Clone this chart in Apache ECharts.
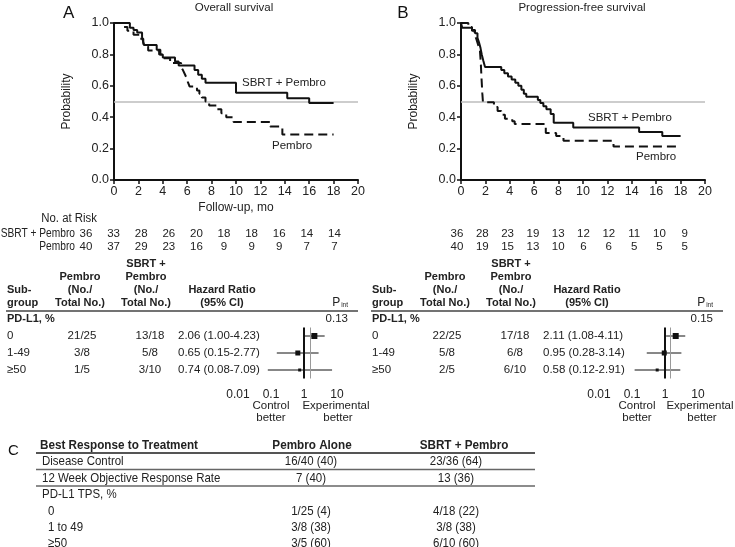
<!DOCTYPE html>
<html><head><meta charset="utf-8">
<script src="https://cdn.jsdelivr.net/npm/echarts@6/dist/echarts.min.js"></script>
<style>html,body{margin:0;padding:0;background:#fff}#c{width:735px;height:547px}</style>
</head><body><div id="c"></div>
<script>
// ---------- DATA ----------
// Panel A: overall survival (Kaplan-Meier steps: time in months, probability)
const osSbrtTime = [0, 1.3, 1.6, 1.9, 2.3, 2.45, 3.5, 3.8, 4.0, 5.0, 5.3, 6.6, 6.9, 7.2, 7.5, 10.0, 14.2, 16.0, 18.0];
const osSbrtProb = [1.0, 0.97, 0.955, 0.94, 0.91, 0.86, 0.83, 0.80, 0.78, 0.755, 0.73, 0.70, 0.67, 0.645, 0.62, 0.555, 0.52, 0.49, 0.49];
const osPembroTime = [0, 0.7, 1.1, 1.6, 2.1, 2.4, 2.5, 2.8, 3.7, 3.9, 4.6, 5.5, 5.65, 5.8, 5.95, 6.05, 6.2, 6.8, 7.0, 7.2, 7.5, 7.8, 8.4, 8.8, 9.2, 9.8, 12.8, 13.8, 18.0];
const osPembroProb = [1.0, 0.975, 0.95, 0.925, 0.9, 0.875, 0.85, 0.825, 0.80, 0.775, 0.745, 0.72, 0.70, 0.675, 0.65, 0.625, 0.595, 0.57, 0.55, 0.525, 0.50, 0.475, 0.45, 0.425, 0.40, 0.37, 0.34, 0.29, 0.29];
// Panel B: progression-free survival
const pfsSbrtTime = [0, 0.1, 0.9, 1.15, 1.35, 1.5, 1.6, 1.7, 1.83, 1.97, 3.3, 3.55, 3.85, 4.15, 4.45, 4.7, 4.95, 5.15, 5.35, 6.3, 6.5, 6.75, 7.0, 7.35, 7.6, 9.2, 14.6, 16.5, 18.0];
const pfsSbrtProb = [1.0, 0.97, 0.955, 0.935, 0.905, 0.87, 0.84, 0.80, 0.76, 0.72, 0.70, 0.68, 0.66, 0.64, 0.62, 0.60, 0.575, 0.55, 0.53, 0.51, 0.49, 0.47, 0.45, 0.42, 0.365, 0.335, 0.305, 0.28, 0.28];
const pfsPembroTime = [0, 0.6, 0.9, 1.1, 1.25, 1.35, 1.45, 1.55, 1.62, 1.68, 1.75, 1.8, 2.7, 3.0, 3.3, 3.6, 4.2, 4.4, 6.95, 7.8, 8.4, 12.5, 18.0];
const pfsPembroProb = [1.0, 0.975, 0.95, 0.925, 0.9, 0.875, 0.85, 0.825, 0.75, 0.65, 0.55, 0.495, 0.465, 0.44, 0.415, 0.39, 0.375, 0.357, 0.30, 0.28, 0.25, 0.213, 0.213];
const medianLine = 0.5;

// Numbers at risk (months 0..18, step 2)
const riskMonths = [0, 2, 4, 6, 8, 10, 12, 14, 16, 18];
const riskOsSbrt = [36, 33, 28, 26, 20, 18, 18, 16, 14, 14];
const riskOsPembro = [40, 37, 29, 23, 16, 9, 9, 9, 7, 7];
const riskPfsSbrt = [36, 28, 23, 19, 13, 12, 12, 11, 10, 9];
const riskPfsPembro = [40, 19, 15, 13, 10, 6, 6, 5, 5, 5];

// Forest plots
const subgroups = ['0', '1-49', '≥50'];
const osPembroEv = ['21/25', '3/8', '1/5'];
const osSbrtEv = ['13/18', '5/8', '3/10'];
const osHR = [2.06, 0.65, 0.74];
const osLo = [1.00, 0.15, 0.08];
const osHi = [4.23, 2.77, 7.09];
const osPint = '0.13';
const osOverall = 1.5;
const pfsPembroEv = ['22/25', '5/8', '2/5'];
const pfsSbrtEv = ['17/18', '6/8', '6/10'];
const pfsHR = [2.11, 0.95, 0.58];
const pfsLo = [1.08, 0.28, 0.12];
const pfsHi = [4.11, 3.14, 2.91];
const pfsPint = '0.15';
const pfsOverall = 1.4;

// Table C
const tcHeader = ['Best Response to Treatment', 'Pembro Alone', 'SBRT + Pembro'];
const tcLabels = ['Disease Control', '12 Week Objective Response Rate', 'PD-L1 TPS, %', '0', '1 to 49', '≥50'];
const tcPembro = ['16/40 (40)', '7 (40)', '', '1/25 (4)', '3/8 (38)', '3/5 (60)'];
const tcSbrt = ['23/36 (64)', '13 (36)', '', '4/18 (22)', '3/8 (38)', '6/10 (60)'];

// ---------- BUILD ----------
const FF = '"Liberation Sans", Arial, Helvetica, sans-serif';
const pairs = (t, p) => t.map((v, i) => [v, p[i]]);
const fmtHR = (h, l, u) => h.toFixed(2) + ' (' + l.toFixed(2) + '-' + u.toFixed(2) + ')';

const chart = echarts.init(document.getElementById('c'));

function kmX(idx, withName) {
  return {
    gridIndex: idx, type: 'value', min: 0, max: 20, interval: 2,
    name: withName ? 'Follow-up, mo' : '', nameLocation: 'middle', nameGap: 22,
    nameTextStyle: { color: '#222', fontSize: 12, fontFamily: FF },
    axisLine: { lineStyle: { color: '#111', width: 2 } },
    axisTick: { length: 4, lineStyle: { color: '#111', width: 1.5 } },
    axisLabel: { color: '#222', fontSize: 12.5, fontFamily: FF, margin: 5 },
    splitLine: { show: false }
  };
}
function kmY(idx) {
  return {
    gridIndex: idx, type: 'value', min: 0, max: 1, interval: 0.2,
    name: 'Probability', nameLocation: 'middle', nameGap: 41,
    nameTextStyle: { color: '#222', fontSize: 12, fontFamily: FF },
    axisLine: { show: true, lineStyle: { color: '#111', width: 2 } },
    axisTick: { show: true, length: 4, lineStyle: { color: '#111', width: 1.5 } },
    axisLabel: { color: '#222', fontSize: 12.5, fontFamily: FF, margin: 5, formatter: v => v.toFixed(1) },
    splitLine: { show: false }
  };
}
function forestX(idx) {
  return {
    gridIndex: idx, type: 'log', logBase: 10, min: 0.01, max: 10,
    axisLine: { lineStyle: { color: '#111', width: 1.5 } },
    axisTick: { length: 4, lineStyle: { color: '#111', width: 1.2 } },
    axisLabel: { color: '#222', fontSize: 12, fontFamily: FF, margin: 10, formatter: v => String(+v) },
    splitLine: { show: false }, minorTick: { show: false }
  };
}
function forestY(idx) {
  return { gridIndex: idx, type: 'category', data: subgroups, inverse: true, show: false };
}
function km(name, xi, data, dashed, mark) {
  const s = {
    name, type: 'line', xAxisIndex: xi, yAxisIndex: xi, step: 'end', symbol: 'none',
    data, lineStyle: { color: '#111', width: 2, type: dashed ? [9, 5] : 'solid' }, z: 5, silent: true
  };
  if (mark) s.markLine = {
    silent: true, symbol: 'none', label: { show: false },
    lineStyle: { color: '#bdbdbd', width: 1.5, type: 'solid' }, data: [{ yAxis: medianLine }], z: 1
  };
  return s;
}
const boxSize = [6, 5, 3];
function forestSeries(xi, hr, lo, hi, overall) {
  return {
    type: 'custom', xAxisIndex: xi, yAxisIndex: xi, silent: true,
    data: subgroups.map((g, i) => [i, hr[i], lo[i], hi[i]]),
    encode: { x: [1, 2, 3], y: 0 },
    renderItem: function (params, api) {
      const r = api.value(0);
      const pH = api.coord([api.value(1), r]);
      const pL = api.coord([api.value(2), r]);
      const pU = api.coord([api.value(3), r]);
      const s = boxSize[r];
      return { type: 'group', children: [
        { type: 'line', shape: { x1: pL[0], y1: pL[1], x2: pU[0], y2: pU[1] }, style: { stroke: '#111', lineWidth: 1 } },
        { type: 'rect', shape: { x: pH[0] - s / 2, y: pH[1] - s / 2, width: s, height: s }, style: { fill: '#111' } }
      ] };
    },
    markLine: {
      silent: true, symbol: 'none', label: { show: false },
      data: [
        { xAxis: overall, lineStyle: { color: '#9a9a9a', width: 1, type: 'solid' } },
        { xAxis: 1, lineStyle: { color: '#111', width: 2, type: 'solid' } }
      ]
    }
  };
}

// ---------- GRAPHIC TEXT ----------
const G = [];
function T(text, x, y, o) {
  o = o || {};
  G.push({ type: 'text', x: x, y: y, scaleX: o.sx || 1, scaleY: o.sy || 1, silent: true, style: {
    text: text, fill: o.color || '#222', fontSize: o.size || 11.5, fontFamily: o.family || FF,
    fontWeight: o.bold ? 'bold' : 'normal', textAlign: o.align || 'left', textVerticalAlign: 'middle',
    rich: o.rich
  } });
}
function L(x1, y1, x2, y2, w, c) {
  G.push({ type: 'line', silent: true, shape: { x1, y1, x2, y2 }, style: { stroke: c || '#333', lineWidth: w || 1 } });
}
// Panel letters and titles
T('A', 63, 13, { size: 17, color: '#111' });
T('B', 403, 13, { size: 17, color: '#111', align: 'center' });
T('Overall survival', 234, 8, { size: 11.5, align: 'center' });
T('Progression-free survival', 582, 8, { size: 11.5, align: 'center' });
// Curve labels
T('SBRT + Pembro', 242, 83, { size: 11.5 });
T('Pembro', 272, 146, { size: 11.5 });
T('SBRT + Pembro', 588, 118, { size: 11.5 });
T('Pembro', 636, 157, { size: 11.5 });
// Risk table
const RS = { size: 12, sx: 0.85 };
T('No. at Risk', 97, 219, { align: 'right', size: 12, sx: 0.95 });
T('SBRT + Pembro', 75, 234, Object.assign({ align: 'right' }, RS));
T('Pembro', 75, 247, Object.assign({ align: 'right' }, RS));
riskMonths.forEach((m, i) => {
  const xl = 86 + i * 27.6, xr = 457 + i * 25.3;
  T(String(riskOsSbrt[i]), xl, 234, { align: 'center' });
  T(String(riskOsPembro[i]), xl, 247, { align: 'center' });
  T(String(riskPfsSbrt[i]), xr, 234, { align: 'center' });
  T(String(riskPfsPembro[i]), xr, 247, { align: 'center' });
});
// Forest tables
function forestTable(ox, pe, se, hr, lo, hi, pint) {
  const B = { bold: true, align: 'center', size: 11 };
  T('Sub-', ox + 7, 290, { bold: true, size: 11 });
  T('group', ox + 7, 303, { bold: true, size: 11 });
  T('Pembro', ox + 80, 277, B);
  T('(No./', ox + 80, 290, B);
  T('Total No.)', ox + 80, 303, B);
  T('SBRT +', ox + 146, 264, B);
  T('Pembro', ox + 146, 277, B);
  T('(No./', ox + 146, 290, B);
  T('Total No.)', ox + 146, 303, B);
  T('Hazard Ratio', ox + 222, 290, B);
  T('(95% CI)', ox + 222, 303, B);
  T('{p|P}{s|int}', ox + 348, 303, { align: 'right', rich: {
    p: { fontSize: 12, fontFamily: FF, fill: '#222' },
    s: { fontSize: 6.5, fontFamily: FF, fill: '#222', padding: [5, 0, 0, 1] } } });
  L(ox + 6, 311, ox + 358, 311, 1.3, '#444');
  T('PD-L1, %', ox + 7, 319, { bold: true, size: 11 });
  T(pint, ox + 348, 319, { align: 'right' });
  const ys = [336, 353, 370];
  subgroups.forEach((g, i) => {
    T(g, ox + 7, ys[i]);
    T(pe[i], ox + 82, ys[i], { align: 'center' });
    T(se[i], ox + 150, ys[i], { align: 'center' });
    T(fmtHR(hr[i], lo[i], hi[i]), ox + 178, ys[i]);
  });
}
forestTable(0, osPembroEv, osSbrtEv, osHR, osLo, osHi, osPint);
forestTable(365, pfsPembroEv, pfsSbrtEv, pfsHR, pfsLo, pfsHi, pfsPint);
T('Control', 271, 406, { align: 'center' });
T('better', 271, 418, { align: 'center' });
T('Experimental', 336, 406, { align: 'center' });
T('better', 338, 418, { align: 'center' });
T('Control', 637, 406, { align: 'center' });
T('better', 637, 418, { align: 'center' });
T('Experimental', 700, 406, { align: 'center' });
T('better', 702, 418, { align: 'center' });
// Table C
const CS = { size: 13.5, sx: 0.85 };
const CH = { bold: true, size: 13, sx: 0.9 };
T('C', 8, 451, { size: 15, color: '#111' });
T(tcHeader[0], 40, 445, CH);
T(tcHeader[1], 312, 445, Object.assign({ align: 'center' }, CH));
T(tcHeader[2], 464, 445, Object.assign({ align: 'center' }, CH));
L(36, 453, 535, 453, 2, '#555');
const tcY = [461, 478, 494, 511, 527, 543];
tcLabels.forEach((lab, i) => {
  T(lab, i >= 3 ? 48 : 42, tcY[i], CS);
  if (tcPembro[i]) T(tcPembro[i], 311, tcY[i], Object.assign({ align: 'center' }, CS));
  if (tcSbrt[i]) T(tcSbrt[i], 456, tcY[i], Object.assign({ align: 'center' }, CS));
});
L(36, 469.5, 535, 469.5, 1.5, '#666');
L(36, 486, 535, 486, 1.5, '#666');

const option = {
  backgroundColor: '#fff',
  animation: false,
  grid: [
    { left: 114, top: 23, width: 244, height: 157 },
    { left: 461, top: 23, width: 244, height: 157 },
    { left: 238, top: 327.5, width: 99, height: 51 },
    { left: 599, top: 327.5, width: 99, height: 51 }
  ],
  xAxis: [kmX(0, true), kmX(1, false), forestX(2), forestX(3)],
  yAxis: [kmY(0), kmY(1), forestY(2), forestY(3)],
  series: [
    km('OS SBRT + Pembro', 0, pairs(osSbrtTime, osSbrtProb), false, true),
    km('OS Pembro', 0, pairs(osPembroTime, osPembroProb), true, false),
    km('PFS SBRT + Pembro', 1, pairs(pfsSbrtTime, pfsSbrtProb), false, true),
    km('PFS Pembro', 1, pairs(pfsPembroTime, pfsPembroProb), true, false),
    forestSeries(2, osHR, osLo, osHi, osOverall),
    forestSeries(3, pfsHR, pfsLo, pfsHi, pfsOverall)
  ],
  graphic: G
};
chart.setOption(option);
</script></body></html>
